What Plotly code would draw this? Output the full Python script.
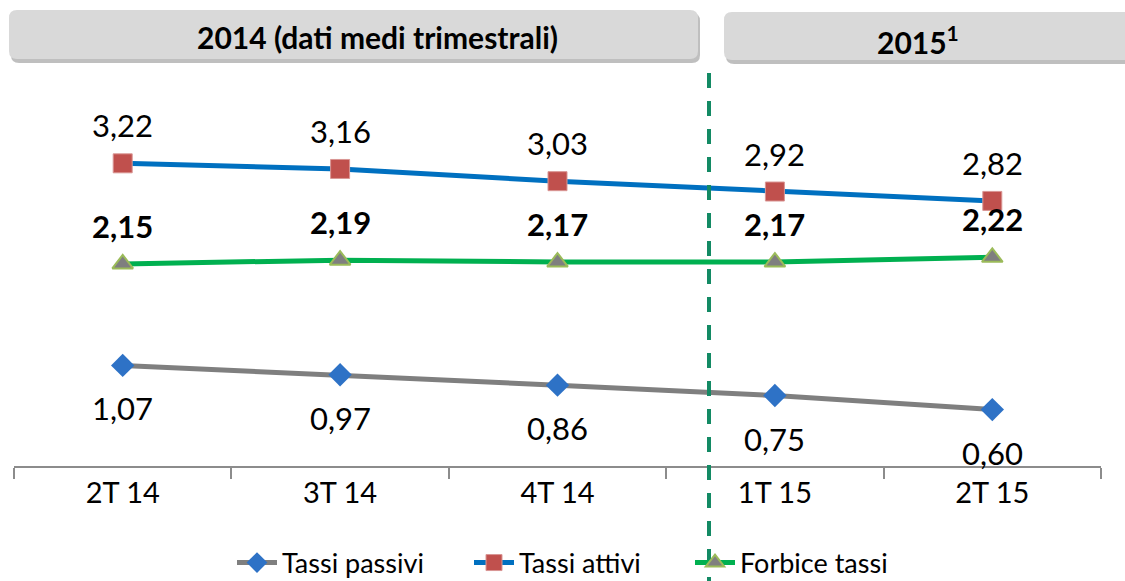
import plotly.graph_objects as go

categories = ["2T 14", "3T 14", "4T 14", "1T 15", "2T 15"]
tassi_passivi = [1.07, 0.97, 0.86, 0.75, 0.60]
tassi_attivi = [3.22, 3.16, 3.03, 2.92, 2.82]
forbice_tassi = [2.15, 2.19, 2.17, 2.17, 2.22]
series_names = ["Tassi passivi", "Tassi attivi", "Forbice tassi"]
header_2014 = "2014 (dati medi trimestrali)"
header_2015 = "2015<sup>1</sup>"

W, H = 1125, 581
L, R, T, B = 14, 24, 90, 115
PW, PH = W - L - R, H - T - B
FONT = "Lato"


def px_x(px):
    return (px - L) / PW


def px_y(py):
    return (H - B - py) / PH


def fmt(v):
    return f"{v:.2f}".replace(".", ",")


def rrect(x0, y0, x1, y1, r):
    rx, ry = r / PW, r / PH
    X0, X1 = px_x(x0), px_x(x1)
    Yt, Yb = px_y(y0), px_y(y1)
    return (f"M {X0+rx},{Yt} L {X1-rx},{Yt} Q {X1},{Yt} {X1},{Yt-ry} "
            f"L {X1},{Yb+ry} Q {X1},{Yb} {X1-rx},{Yb} L {X0+rx},{Yb} "
            f"Q {X0},{Yb} {X0},{Yb+ry} L {X0},{Yt-ry} Q {X0},{Yt} {X0+rx},{Yt} Z")


fig = go.Figure()
fig.add_trace(go.Scatter(
    x=categories, y=tassi_passivi, name=series_names[0], mode="lines+markers", legend="legend",
    line=dict(color="#7F7F7F", width=5),
    marker=dict(symbol="diamond", size=18, color="#2E72C6", line=dict(width=0)),
))
fig.add_trace(go.Scatter(
    x=categories, y=tassi_attivi, name=series_names[1], mode="lines+markers", legend="legend2",
    line=dict(color="#0070C0", width=5),
    marker=dict(symbol="square", size=19, color="#C0504D", line=dict(color="#D99694", width=1)),
))
fig.add_trace(go.Scatter(
    x=categories, y=forbice_tassi, name=series_names[2], mode="lines+markers", legend="legend3",
    line=dict(color="#00B050", width=5),
    marker=dict(symbol="triangle-up", size=18, color="#7F7F7F", line=dict(color="#9BBB59", width=2)),
))

annotations = []
for c, v in zip(categories, tassi_attivi):
    annotations.append(dict(x=c, y=v, text=fmt(v), showarrow=False, yshift=38,
                            font=dict(family=FONT, size=31, color="#000000")))
for c, v in zip(categories, forbice_tassi):
    annotations.append(dict(x=c, y=v, text=f"<b>{fmt(v)}</b>", showarrow=False, yshift=38,
                            font=dict(family=FONT, size=31, color="#000000")))
for c, v in zip(categories, tassi_passivi):
    annotations.append(dict(x=c, y=v, text=fmt(v), showarrow=False, yshift=-43,
                            font=dict(family=FONT, size=31, color="#000000")))

annotations.append(dict(xref="paper", yref="paper", x=px_x(377), y=px_y(37), text=f"<b>{header_2014}</b>",
                        xanchor="center", yanchor="middle", showarrow=False,
                        font=dict(family=FONT, size=30, color="#000000")))
annotations.append(dict(xref="paper", yref="paper", x=px_x(918), y=px_y(40), text=f"<b>{header_2015}</b>",
                        xanchor="center", yanchor="middle", showarrow=False,
                        font=dict(family=FONT, size=30, color="#000000")))

shapes = []
shapes.append(dict(type="path", xref="paper", yref="paper", path=rrect(11, 13, 700, 63, 8),
                   fillcolor="rgba(0,0,0,0.25)", line=dict(width=0), layer="below"))
shapes.append(dict(type="path", xref="paper", yref="paper", path=rrect(726, 15, 1140, 64, 8),
                   fillcolor="rgba(0,0,0,0.25)", line=dict(width=0), layer="below"))
shapes.append(dict(type="path", xref="paper", yref="paper", path=rrect(9, 10, 698, 59, 8),
                   fillcolor="#D9D9D9", line=dict(width=0), layer="below"))
shapes.append(dict(type="path", xref="paper", yref="paper", path=rrect(724, 12, 1140, 60, 8),
                   fillcolor="#D9D9D9", line=dict(width=0), layer="below"))
shapes.append(dict(type="line", xref="paper", yref="paper", x0=px_x(709), x1=px_x(709),
                   y0=px_y(73), y1=px_y(581), line=dict(color="#138A64", width=4, dash="15px,13px")))


def leg(text_start_px):
    return dict(orientation="h", x=px_x(text_start_px - 50), xanchor="left", y=px_y(563), yanchor="middle",
                font=dict(family=FONT, size=27, color="#000000"), itemwidth=40,
                bgcolor="rgba(0,0,0,0)", borderwidth=0)


fig.update_layout(
    width=W, height=H,
    margin=dict(l=L, r=R, t=T, b=B, autoexpand=False),
    paper_bgcolor="white", plot_bgcolor="white",
    showlegend=True,
    legend=leg(282), legend2=leg(519), legend3=leg(740),
    xaxis=dict(type="category", showgrid=False, zeroline=False, showline=True,
               linecolor="#8C8C8C", linewidth=2, ticks="outside", tickson="boundaries",
               ticklen=11, tickcolor="#8C8C8C", tickwidth=2,
               tickfont=dict(family=FONT, size=29, color="#000000"), range=[-0.5, 4.5]),
    yaxis=dict(range=[0, PH / 94.0], visible=False, fixedrange=True),
    annotations=annotations,
    shapes=shapes,
)

fig.write_html("out.html", config={"displayModeBar": False},
               post_script="document.body.style.margin='0';document.body.style.overflow='hidden';")
